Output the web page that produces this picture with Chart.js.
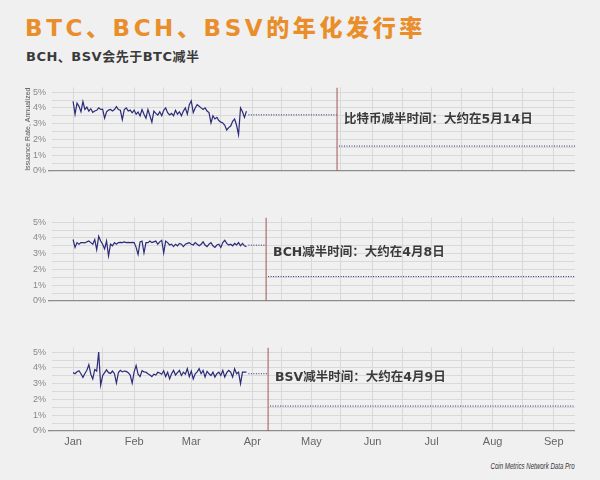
<!DOCTYPE html>
<html>
<head>
<meta charset="utf-8">
<script src="https://cdn.jsdelivr.net/npm/chart.js@4/dist/chart.umd.min.js"></script>
<style>
  html, body { margin: 0; padding: 0; background: #f0f0f0; }
  #page { position: relative; width: 600px; height: 480px; overflow: hidden; background: #f0f0f0; }
  .title {
    position: absolute; left: 25px; top: 17px; margin: 0;
    font: 900 23px/23px 'DejaVu Sans', 'Noto Sans CJK SC', sans-serif;
    letter-spacing: 3.6px; color: #e98e2a; white-space: nowrap;
  }
  .subtitle {
    position: absolute; left: 26px; top: 50px; margin: 0;
    font: bold 13px/13px 'DejaVu Sans', 'Noto Sans CJK SC', sans-serif;
    letter-spacing: 0.5px; color: #3a3a3a; white-space: nowrap;
  }
  .source {
    position: absolute; right: 25px; top: 460px;
    font: italic 9px/12px 'Liberation Sans Narrow', 'Liberation Sans', sans-serif;
    color: #333; white-space: nowrap;
    transform: scaleX(0.68); transform-origin: right center;
  }
  canvas { position: absolute; left: 0; }
</style>
</head>
<body>
<div id="page">
  <h1 class="title">BTC、BCH、BSV的年化发行率</h1>
  <h2 class="subtitle">BCH、BSV会先于BTC减半</h2>
  <canvas id="btc" width="600" height="100" style="top:80px"></canvas>
  <canvas id="bch" width="600" height="100" style="top:210px"></canvas>
  <canvas id="bsv" width="600" height="115" style="top:340px"></canvas>
  <div class="source">Coin Metrics Network Data Pro</div>
</div>
<script>
// Day 0 = 1 Jan 2020 (leap year)
const MONTHS = ['Jan', 'Feb', 'Mar', 'Apr', 'May', 'Jun', 'Jul', 'Aug', 'Sep'];
const MONTH_START_DAYS = [0, 31, 60, 91, 121, 152, 182, 213, 244];
const MID_MONTH_DAYS = [15, 46, 75, 106, 136, 167, 197, 228];

// Daily annualized issuance rate (%), 1 Jan .. 29 Mar
const btcRate = [
  4.42, 3.60, 4.30, 4.10, 3.75, 4.40, 3.90, 4.05, 3.80, 3.95,
  3.72, 3.80, 3.85, 4.00, 3.90, 3.92, 3.35, 3.75, 3.86, 3.90,
  3.80, 3.90, 4.08, 3.90, 3.85, 3.25, 3.90, 4.00, 3.80, 3.86,
  3.69, 3.86, 3.60, 3.74, 3.49, 3.90, 3.60, 3.35, 3.90, 3.50,
  3.10, 3.80, 3.65, 3.55, 3.75, 3.50, 3.85, 4.00, 3.70, 3.55,
  3.65, 3.50, 3.85, 3.60, 3.75, 3.50, 3.80, 4.00, 3.60, 4.20,
  4.45, 3.70, 4.00, 4.20, 4.10, 4.00, 3.90, 4.00, 3.80, 3.70,
  3.05, 3.50, 3.30, 3.40, 3.20, 3.10, 3.05, 2.90, 2.60, 2.75,
  2.85, 3.15, 3.30, 2.90, 2.30, 4.00, 3.75, 3.40, 3.80
];
const bchRate = [
  3.90, 3.40, 3.70, 3.60, 3.70, 3.70, 3.68, 3.75, 3.80, 3.70,
  3.60, 3.90, 3.25, 4.10, 3.80, 3.60, 3.30, 3.80, 2.85, 3.60,
  3.50, 3.70, 3.60, 3.70, 3.72, 3.70, 3.75, 3.70, 3.72, 3.70,
  3.72, 3.70, 3.40, 2.95, 3.75, 3.80, 3.05, 3.70, 3.70, 3.80,
  3.70, 3.75, 3.80, 3.60, 3.75, 3.85, 3.05, 3.80, 3.70, 3.55,
  3.60, 3.45, 3.60, 3.50, 3.65, 3.60, 3.45, 3.60, 3.65, 3.70,
  3.60, 3.55, 3.70, 3.60, 3.50, 3.60, 3.75, 3.55, 3.45, 3.60,
  3.70, 3.50, 3.40, 3.55, 3.60, 3.40, 3.70, 3.85, 3.65, 3.55,
  3.60, 3.50, 3.65, 3.55, 3.70, 3.50, 3.65, 3.50, 3.45
];
const bsvRate = [
  3.70, 3.63, 3.75, 3.82, 3.63, 3.40, 3.65, 3.85, 4.20, 3.60,
  3.30, 3.90, 3.80, 5.00, 2.90, 3.50, 3.70, 3.88, 3.70, 3.65,
  3.80, 3.63, 3.04, 3.70, 3.85, 3.75, 3.80, 3.78, 3.70, 3.55,
  3.04, 3.75, 4.15, 3.60, 3.45, 3.82, 3.75, 3.73, 3.63, 3.55,
  3.45, 3.60, 3.55, 3.72, 3.68, 3.60, 3.82, 3.45, 3.73, 3.30,
  3.63, 3.84, 3.55, 3.70, 3.84, 3.52, 3.73, 3.60, 3.95, 3.45,
  3.80, 3.30, 3.63, 3.75, 3.95, 3.63, 3.84, 3.42, 3.78, 3.63,
  3.52, 3.73, 3.42, 3.63, 3.73, 3.52, 3.84, 3.42, 3.70, 3.84,
  3.73, 3.42, 3.95, 3.63, 3.73, 3.00, 3.73, 3.73, 3.73
];

// Projected flat rates before / after each halving (%)
const btcProjected = [3.56, 1.58];
const bchProjected = [3.54, 1.55];
const bsvProjected = [3.63, 1.58];

// Halving dates as day-of-year: 14 May, 8 Apr, 9 Apr
const btcHalvingDay = 134;
const bchHalvingDay = 98;
const bsvHalvingDay = 99;

const halvingLabels = {
  btc: '比特币减半时间：大约在5月14日',
  bch: 'BCH减半时间：大约在4月8日',
  bsv: 'BSV减半时间：大约在4月9日'
};

// y grid every 0.5 %, labels on whole percents
const Y_GRID_VALUES = [0, 0.5, 1, 1.5, 2, 2.5, 3, 3.5, 4, 4.5, 5];
const Y_MAX = 5.3;
const X_MIN = -10.7;
const X_MAX = 254.8;

const LINE_COLOR = '#2b2b78';
const GRID_COLOR = '#d9d9d9';
const AXIS_COLOR = '#8c8c8c';
const HALVING_COLOR = '#a86262';

// Caption beside each halving marker
const halvingCaption = {
  id: 'halvingCaption',
  afterDatasetsDraw(chart, args, opts) {
    const { ctx, chartArea, scales } = chart;
    const x = scales.x.getPixelForValue(opts.day);
    ctx.save();
    ctx.fillStyle = '#3a3a3a';
    ctx.font = "bold 12.5px 'DejaVu Sans', 'Noto Sans CJK SC', sans-serif";
    ctx.textBaseline = 'middle';
    ctx.textAlign = 'left';
    ctx.fillText(opts.text, x + 7, chartArea.top + opts.textOffset);
    ctx.restore();
  }
};

function seriesPoints(values) {
  return values.map((v, i) => ({ x: i, y: v }));
}

function makePanel(id, rate, projected, halvingDay, text, textOffset, showMonths, showTitle) {
  const lastDay = rate.length - 1;
  const xAxisHeight = showMonths ? 24 : 9;
  return new Chart(document.getElementById(id), {
    type: 'line',
    data: {
      datasets: [
        {
          // halving date marker
          data: [{ x: halvingDay, y: 0 }, { x: halvingDay, y: Y_MAX }],
          borderColor: HALVING_COLOR, borderWidth: 1.1,
          pointRadius: 0
        },
        {
          data: seriesPoints(rate),
          borderColor: LINE_COLOR, borderWidth: 1.2,
          pointRadius: 0, tension: 0
        },
        {
          data: [{ x: lastDay + 1, y: projected[0] }, { x: halvingDay, y: projected[0] }],
          borderColor: LINE_COLOR, borderWidth: 1, borderDash: [1, 1.5],
          pointRadius: 0
        },
        {
          data: [{ x: halvingDay + 1, y: projected[1] }, { x: X_MAX, y: projected[1] }],
          borderColor: LINE_COLOR, borderWidth: 1, borderDash: [1, 1.5],
          pointRadius: 0
        }
      ]
    },
    options: {
      responsive: false,
      animation: false,
      devicePixelRatio: 1,
      layout: { padding: { top: 6, right: 25, bottom: 0, left: 0 } },
      plugins: {
        legend: { display: false },
        tooltip: { enabled: false },
        halvingCaption: { day: halvingDay, text: text, textOffset: textOffset }
      },
      scales: {
        x: {
          type: 'linear', min: X_MIN, max: X_MAX,
          afterBuildTicks(scale) {
            scale.ticks = MONTH_START_DAYS.concat(MID_MONTH_DAYS)
              .filter(d => d >= X_MIN && d <= X_MAX)
              .sort((a, b) => a - b)
              .map(d => ({ value: d }));
          },
          afterFit(scale) { scale.height = xAxisHeight; },
          grid: { color: GRID_COLOR, lineWidth: 1, drawTicks: false },
          border: { display: false },
          ticks: {
            display: showMonths, autoSkip: false, maxRotation: 0, padding: 4,
            color: '#666',
            font: { family: "'Liberation Sans Narrow', 'Liberation Sans', sans-serif", size: 11 },
            callback(value) {
              const i = MONTH_START_DAYS.indexOf(value);
              return i >= 0 ? MONTHS[i] : '';
            }
          }
        },
        y: {
          min: 0, max: Y_MAX,
          afterBuildTicks(scale) {
            scale.ticks = Y_GRID_VALUES.map(v => ({ value: v }));
          },
          afterFit(scale) { scale.width = 52; },
          grid: {
            lineWidth: ctx => (ctx.tick && ctx.tick.value === 0 ? 1.3 : 1),
            color: ctx => (ctx.tick && ctx.tick.value === 0 ? AXIS_COLOR : GRID_COLOR),
            tickColor: ctx => (ctx.tick && ctx.tick.value === 0 ? AXIS_COLOR : 'rgba(0,0,0,0)'),
            tickLength: 4
          },
          border: { display: false },
          title: {
            display: showTitle,
            text: 'Issuance Rate, Annualized',
            color: '#555',
            font: { family: "'Liberation Sans Narrow', 'Liberation Sans', sans-serif", size: 7 },
            padding: { top: 24, bottom: 0 }
          },
          ticks: {
            autoSkip: false, padding: 2, color: '#888',
            font: { family: "'Liberation Sans Narrow', 'Liberation Sans', sans-serif", size: 9 },
            callback(value) {
              return Number.isInteger(value) ? value + '%' : '';
            }
          }
        }
      }
    },
    plugins: [halvingCaption]
  });
}

makePanel('btc', btcRate, btcProjected, btcHalvingDay, halvingLabels.btc, 32, false, true);
makePanel('bch', bchRate, bchProjected, bchHalvingDay, halvingLabels.bch, 35, false, false);
makePanel('bsv', bsvRate, bsvProjected, bsvHalvingDay, halvingLabels.bsv, 30, true, false);
</script>
</body>
</html>
